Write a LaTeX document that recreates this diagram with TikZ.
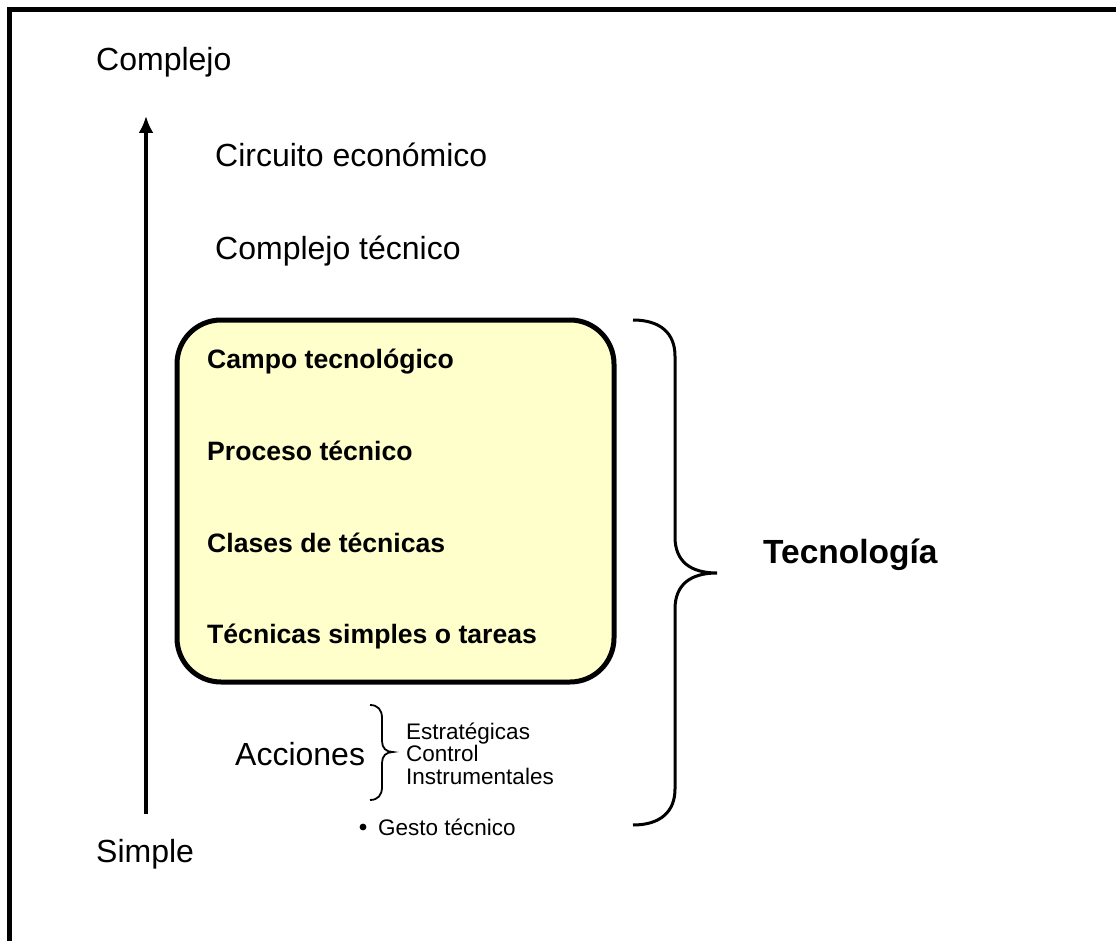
\documentclass[tikz,border=0pt]{standalone}
\usepackage{fontspec}
\setmainfont{Liberation Sans}
\usetikzlibrary{arrows.meta}
\definecolor{boxfill}{HTML}{FFFFCC}
\begin{document}
\begin{tikzpicture}[x=1pt,y=-1pt,
  lbl/.style={anchor=base west,inner sep=0pt,font=\fontsize{32}{36}\selectfont},
  blbl/.style={anchor=base west,inner sep=0pt,font=\fontsize{26.6}{30}\selectfont\bfseries},
  slbl/.style={anchor=base west,inner sep=0pt,font=\fontsize{22.5}{25}\selectfont},
  bracestyle/.style={line width=3pt}]
\useasboundingbox (0,0) rectangle (1116,941);
\fill[white] (0,0) rectangle (1116,941);
% frame (only top and left edges visible)
\draw[line width=5.5pt] (9.5,960) -- (9.5,9.5) -- (1130,9.5);
% axis labels and arrow
\node[lbl] (complejo) at (96,71) {Complejo};
\node[lbl] (simple) at (96,862) {Simple};
\coordinate (abot) at (146,814);
\coordinate (atop) at (146,116);
\draw[line width=3.2pt,-{Latex[length=17pt,width=15pt]}] (abot) -- (atop);
% upper levels
\node[lbl] (circuito) at (215,167) {Circuito económico};
\node[lbl] (comptec) at (215,260) {Complejo técnico};
% rounded box
\draw[line width=5pt,fill=boxfill,rounded corners=44pt] (177,320) rectangle (614,682);
\node[blbl] (campo) at (207,368) {Campo tecnológico};
\node[blbl] (proceso) at (207,460) {Proceso técnico};
\node[blbl] (clases) at (207,552) {Clases de técnicas};
\node[blbl] (tecsimples) at (207,643) {Técnicas simples o tareas};
% big brace
\draw[bracestyle] (633,320) .. controls (660,320) and (675,333) .. (675,356)
  -- (675,537) .. controls (675,561) and (690,573) .. (717,573)
  .. controls (690,573) and (675,585) .. (675,609)
  -- (675,789) .. controls (675,812) and (660,825) .. (633,825);
\node[anchor=base west,inner sep=0pt,font=\fontsize{33.5}{36}\selectfont\bfseries] (tecnologia) at (763,563) {Tecnología};
% acciones
\node[lbl] (acciones) at (235,765) {Acciones};
\draw[line width=1.8pt] (370,705) .. controls (378,705) and (382,710) .. (382,718)
  -- (382,741) .. controls (382,748) and (386,752) .. (393,752)
  .. controls (386,752) and (382,756) .. (382,763)
  -- (382,787) .. controls (382,795) and (378,800) .. (370,800);
\node[slbl] (estr) at (406,739) {Estratégicas};
\node[slbl] (control) at (406,761.5) {Control};
\node[slbl] (instr) at (406,784) {Instrumentales};
\fill (363,827) circle (3.4pt);
\node[slbl] (gesto) at (378,835) {Gesto técnico};
\end{tikzpicture}
\end{document}
